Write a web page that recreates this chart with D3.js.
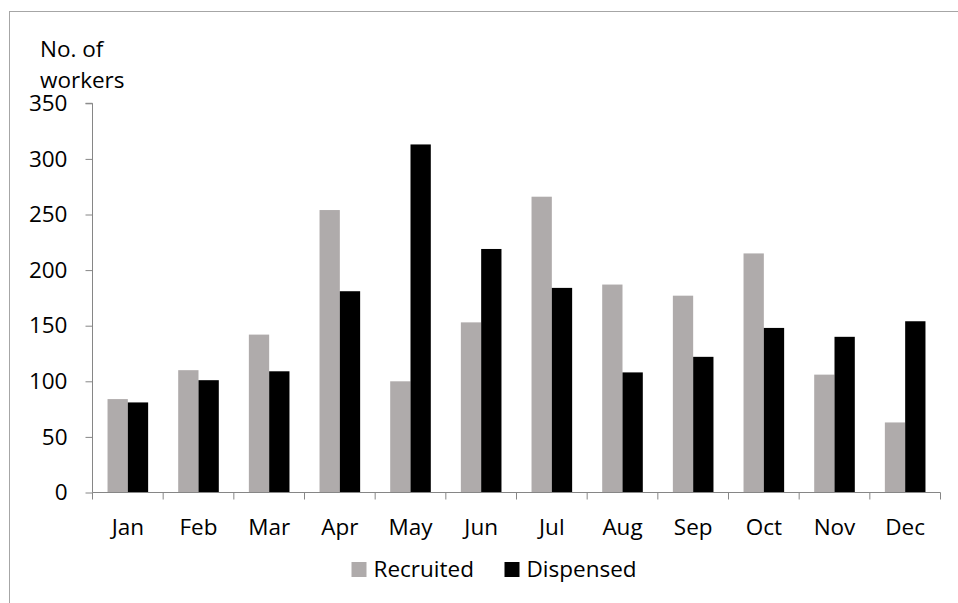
<!DOCTYPE html>
<html><head><meta charset="utf-8">
<script src="https://cdn.jsdelivr.net/npm/d3@7"></script>
<style>
body{margin:0;background:#fff;}
svg{display:block;font-family:"Open Sans",sans-serif;}
</style></head>
<body>
<svg id="chart" width="958" height="603"></svg>
<script>
const months = ["Jan","Feb","Mar","Apr","May","Jun","Jul","Aug","Sep","Oct","Nov","Dec"];
const recruited = [84,110,142,254,100,153,266,187,177,215,106,63];
const dispensed = [81,101,109,181,313,219,184,108,122,148,140,154];
const seriesNames = ["Recruited","Dispensed"];
const seriesColors = ["#afabab","#000000"];
const yTicks = [0,50,100,150,200,250,300,350];
const FS = 22.5;

const svg = d3.select("#chart");
const W = 958, H = 603;
const m = {left:92.5, right:W-940.5, top:103.3, bottom:H-492.5};

// outer frame
svg.append("rect").attr("x",9.5).attr("y",11.5).attr("width",1000).attr("height",700)
  .attr("fill","none").attr("stroke","#a6a6a6").attr("stroke-width",1);

const x = d3.scaleBand().domain(months).range([m.left, W-m.right]).paddingInner(0).paddingOuter(0);
const x1 = d3.scaleBand().domain(seriesNames).range([0, x.bandwidth()]).paddingInner(0).paddingOuter(0.74);
const y = d3.scaleLinear().domain([0,350]).range([H-m.bottom, m.top]);

const data = months.map((mo,i)=>({month:mo, values:[recruited[i], dispensed[i]]}));

const g = svg.append("g");
data.forEach(d=>{
  d.values.forEach((v,k)=>{
    g.append("rect")
      .attr("x", x(d.month)+x1(seriesNames[k]))
      .attr("y", y(v))
      .attr("width", x1.bandwidth())
      .attr("height", y(0)-y(v))
      .attr("fill", seriesColors[k]);
  });
});

// y axis
const yAxis = d3.axisLeft(y).tickValues(yTicks).tickSize(7).tickPadding(18);
const ya = svg.append("g").attr("transform",`translate(${m.left},0)`).call(yAxis);
ya.select(".domain").attr("stroke","#868686").attr("d",`M-7,${y(350)}H0V${y(0)}`);
ya.selectAll(".tick line").attr("stroke","#868686");
ya.selectAll(".tick text").attr("fill","#000").attr("font-size",FS).attr("font-family","'Open Sans',sans-serif");

// x axis
const xa = svg.append("g").attr("transform",`translate(0,${y(0)})`)
  .call(d3.axisBottom(x).tickSize(0).tickPadding(26.5));
xa.select(".domain").attr("stroke","#868686").attr("d",`M${m.left},0H${W-m.right}`);
xa.selectAll(".tick line").remove();
xa.selectAll(".tick text").attr("fill","#000").attr("font-size",FS).attr("font-family","'Open Sans',sans-serif");
// category boundary ticks
const bounds = months.map(mo=>x(mo)).concat([x(months[months.length-1])+x.bandwidth()]);
xa.selectAll(".bt").data(bounds).enter().append("line").attr("class","bt")
  .attr("x1",d=>d).attr("x2",d=>d).attr("y1",0).attr("y2",7).attr("stroke","#868686");

// axis title
const t = svg.append("text").attr("x",40).attr("y",56.5).attr("font-size",FS).attr("fill","#000");
t.append("tspan").attr("x",40).text("No. of");
t.append("tspan").attr("x",40).attr("dy",31).text("workers");

// legend
const leg = svg.append("g");
const legX = [351.5, 504.5];
seriesNames.forEach((s,k)=>{
  leg.append("rect").attr("x",legX[k]).attr("y",562).attr("width",15).attr("height",15).attr("fill",seriesColors[k]);
  leg.append("text").attr("x",legX[k]+22).attr("y",577).attr("font-size",FS).attr("fill","#000").text(s);
});
</script>
</body></html>
